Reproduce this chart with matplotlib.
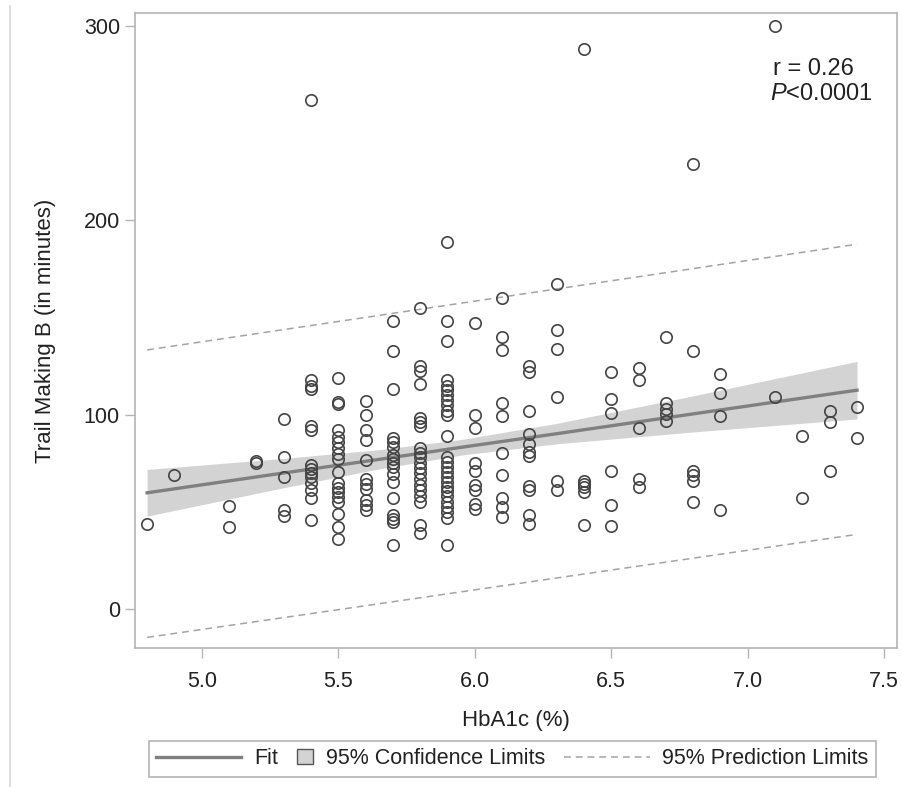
import numpy as np
import matplotlib
matplotlib.use("Agg")
import matplotlib.pyplot as plt
from matplotlib.lines import Line2D
from matplotlib.patches import Rectangle

plt.rcParams['font.family'] = ['Liberation Sans', 'DejaVu Sans']
plt.rcParams['mathtext.fontset'] = 'custom'
plt.rcParams['mathtext.rm'] = 'Liberation Sans'
plt.rcParams['mathtext.it'] = 'Liberation Sans:italic'

######################################
# one line per HbA1c level
hba1c = [
    4.8,
    4.9,
    5.1, 5.1,
    5.2, 5.2,
    5.3, 5.3, 5.3, 5.3, 5.3,
    5.4, 5.4, 5.4, 5.4, 5.4, 5.4, 5.4, 5.4, 5.4, 5.4, 5.4, 5.4, 5.4, 5.4,
    5.5, 5.5, 5.5, 5.5, 5.5, 5.5, 5.5, 5.5, 5.5, 5.5, 5.5, 5.5, 5.5, 5.5, 5.5, 5.5, 5.5, 5.5,
    5.6, 5.6, 5.6, 5.6, 5.6, 5.6, 5.6, 5.6, 5.6, 5.6, 5.6,
    5.7, 5.7, 5.7, 5.7, 5.7, 5.7, 5.7, 5.7, 5.7, 5.7, 5.7, 5.7, 5.7, 5.7, 5.7, 5.7, 5.7,
    5.8, 5.8, 5.8, 5.8, 5.8, 5.8, 5.8, 5.8, 5.8, 5.8, 5.8, 5.8, 5.8, 5.8, 5.8, 5.8, 5.8, 5.8, 5.8, 5.8,
    5.9, 5.9, 5.9, 5.9, 5.9, 5.9, 5.9, 5.9, 5.9, 5.9, 5.9, 5.9, 5.9, 5.9, 5.9, 5.9, 5.9, 5.9, 5.9, 5.9, 5.9, 5.9, 5.9, 5.9, 5.9, 5.9,
    6.0, 6.0, 6.0, 6.0, 6.0, 6.0, 6.0, 6.0, 6.0,
    6.1, 6.1, 6.1, 6.1, 6.1, 6.1, 6.1, 6.1, 6.1, 6.1,
    6.2, 6.2, 6.2, 6.2, 6.2, 6.2, 6.2, 6.2, 6.2, 6.2, 6.2,
    6.3, 6.3, 6.3, 6.3, 6.3, 6.3,
    6.4, 6.4, 6.4, 6.4, 6.4, 6.4,
    6.5, 6.5, 6.5, 6.5, 6.5, 6.5,
    6.6, 6.6, 6.6, 6.6, 6.6,
    6.7, 6.7, 6.7, 6.7, 6.7,
    6.8, 6.8, 6.8, 6.8, 6.8, 6.8,
    6.9, 6.9, 6.9, 6.9,
    7.1, 7.1,
    7.2, 7.2,
    7.3, 7.3, 7.3,
    7.4, 7.4,
]
trail_b = [
    44,
    69,
    53, 42,
    76, 75,
    98, 78, 68, 51, 48,
    262, 118, 115, 113, 94, 92, 74, 72, 70, 68, 65, 61, 57, 46,
    119, 106.5, 105.5, 92, 88.5, 86, 83, 80, 77, 70.5, 65, 62.5, 60, 57.5, 55, 49, 42, 36,
    107, 100, 92, 87, 76.5, 67, 64.5, 62, 56, 53.5, 51,
    148, 133, 113, 88, 86, 83.5, 79, 77, 75, 73, 69.5, 65.5, 57, 48.5, 46.5, 45, 33,
    155, 125, 122.5, 116, 98.5, 96, 94, 83, 80.5, 78, 75, 72.5, 70, 67, 64, 61, 58, 55, 43, 39,
    189, 148, 138, 118, 115, 112.5, 110, 107.5, 105, 102, 100, 89, 78, 75.5, 73, 70.5, 68, 65.5, 63, 60.5, 58, 55, 52.5, 50, 47, 33,
    147, 100, 93, 75, 71, 64, 61, 54, 51.5,
    160, 140, 133.5, 106, 99.5, 80.5, 69, 57, 52.5, 47.5,
    125, 122, 102, 90, 85, 81, 78.5, 63.5, 61, 48.5, 44,
    167, 143.5, 134, 109, 66, 61,
    288, 66, 64.5, 63, 60, 43,
    122, 108, 101, 71, 53.5, 42.5,
    124, 118, 93, 67, 63,
    140, 106, 103, 100.5, 96.5,
    229, 133, 71, 69, 66, 55,
    121, 111, 99.5, 51,
    300, 109,
    89, 57,
    102, 96, 71,
    104, 88,
]

# fitted line, 95% confidence band and 95% prediction limits as drawn in the picture
band_x   = [4.8, 5.3, 5.65, 5.95, 6.3, 6.8, 7.4]
fit_y    = [59.8, 70.0, 77.0, 83.2, 90.2, 100.4, 112.6]
ci_upper = [71.8, 77.5, 82.0, 87.2, 95.5, 109.7, 127.4]
ci_lower = [47.8, 62.4, 72.1, 79.2, 85.0, 91.1, 97.8]
pred_x     = [4.8, 7.4]
pred_upper = [133.3, 187.7]
pred_lower = [-14.6, 38.4]

x_ticks = [5.0, 5.5, 6.0, 6.5, 7.0, 7.5]
y_ticks = [0, 100, 200, 300]
r_text = "r = 0.26"
p_text = r"$\mathit{P}$<0.0001"
######################################
assert len(hba1c) == len(trail_b)

fitcolor  = '#808080'
bandcolor = '#d3d3d3'
predcolor = '#a3a3a3'
markcolor = '#444444'
framecol  = '#b4b4b4'
textcol   = '#222222'
dash      = (0, (4.5, 3.2))

fig = plt.figure(figsize=(9.03, 7.87), dpi=100)
ax = fig.add_axes([0.149, 0.176, 0.8439, 0.8071])

ax.fill_between(band_x, ci_lower, ci_upper, color=bandcolor, lw=0, zorder=1)
ax.plot(band_x, fit_y, color=fitcolor, lw=2.4, zorder=2)
ax.plot(pred_x, pred_upper, color=predcolor, lw=1.1, ls=dash, zorder=2)
ax.plot(pred_x, pred_lower, color=predcolor, lw=1.1, ls=dash, zorder=2)
ax.plot(hba1c, trail_b, 'o', ms=8.2, mfc='none', mec=markcolor, mew=1.2, zorder=3)

ax.set_xlim(4.754, 7.545)
ax.set_ylim(-20.3, 306.5)
ax.set_xticks(x_ticks)
ax.set_xticklabels(['%.1f' % v for v in x_ticks])
ax.set_yticks(y_ticks)
for sp in ax.spines.values():
    sp.set_color(framecol)
    sp.set_linewidth(1.2)
ax.tick_params(axis='both', direction='out', length=7, width=1.0, color=framecol,
               labelsize=15.5, labelcolor=textcol)
ax.tick_params(axis='x', pad=9)
ax.tick_params(axis='y', pad=3.5)

ax.set_xlabel('HbA1c (%)', fontsize=16, color=textcol)
ax.set_ylabel('Trail Making B (in minutes)', fontsize=16, color=textcol)
ax.xaxis.set_label_coords(0.5, -0.097)
ax.yaxis.set_label_coords(-0.103, 0.5)

ax.text(0.838, 0.9125, r_text, transform=ax.transAxes, fontsize=17, color=textcol,
        ha='left', va='center')
ax.text(0.834, 0.873, p_text, transform=ax.transAxes, fontsize=17, color=textcol,
        ha='left', va='center')


class SquareHandler:
    # small square swatch instead of a full length handle
    def legend_artist(self, legend, orig_handle, fontsize, handlebox):
        side = 0.72 * fontsize
        handlebox.width = side
        h = handlebox.height
        sq = Rectangle((-handlebox.xdescent, -handlebox.ydescent + (h - side) / 2), side, side,
                       facecolor=orig_handle.get_facecolor(), edgecolor=orig_handle.get_edgecolor(),
                       lw=1.0, transform=handlebox.get_transform())
        handlebox.add_artist(sq)
        return sq


h_fit  = Line2D([], [], color=fitcolor, lw=2.4)
h_ci   = Rectangle((0, 0), 1, 1, facecolor=bandcolor, edgecolor='#555555')
h_pred = Line2D([], [], color=predcolor, lw=1.1, ls=dash)
leg = fig.legend([h_fit, h_ci, h_pred],
                 ['Fit', '95% Confidence Limits', '95% Prediction Limits'],
                 handler_map={Rectangle: SquareHandler()},
                 loc='center', bbox_to_anchor=(0.5675, 0.036), bbox_transform=fig.transFigure,
                 ncol=3, fontsize=15.5, handlelength=3.95, handletextpad=0.6,
                 columnspacing=0.9, borderpad=0.35, fancybox=False, framealpha=1)
leg.get_frame().set_edgecolor(framecol)
leg.get_frame().set_linewidth(1.2)
for t in leg.get_texts():
    t.set_color(textcol)

# thin border line on the left of the image
fig.add_artist(Line2D([0.011, 0.011], [0.0, 0.992], transform=fig.transFigure,
                      color='#d9d9d9', lw=1.2))

fig.savefig('out.png', dpi=100)
